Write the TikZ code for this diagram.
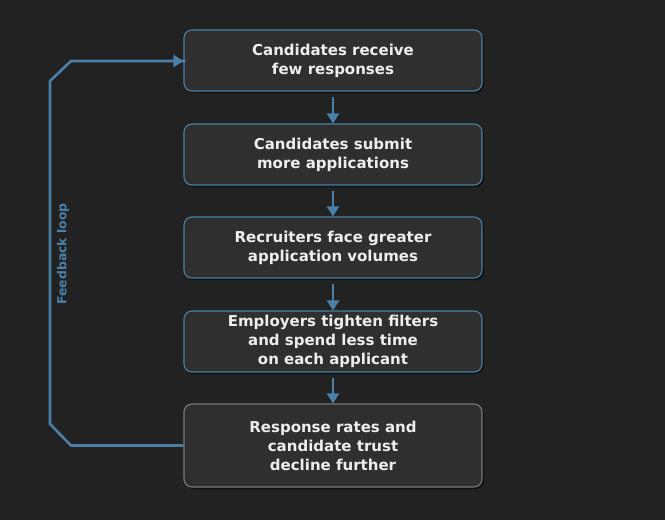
\documentclass[tikz,border=0pt]{standalone}
\usepackage{fontspec}
\setmainfont{DejaVu Sans}
\usetikzlibrary{arrows.meta,shadows}
\definecolor{bg}{HTML}{222222}
\definecolor{boxfill}{HTML}{2F2F2F}
\definecolor{flowblue}{HTML}{4A80A8}
\definecolor{endgray}{HTML}{7A7A7A}
\definecolor{txt}{HTML}{EEEEEE}
\tikzset{
  stepbox/.style={draw=flowblue, line width=1.1pt, fill=boxfill, rounded corners=8pt,
    minimum width=298pt, minimum height=61pt, align=center, text=txt,
    font=\fontsize{15}{19}\selectfont\bfseries,
    drop shadow={shadow xshift=2pt, shadow yshift=-2pt, fill=black, opacity=0.5}},
  endbox/.style={stepbox, draw=endgray, minimum height=83pt},
  flow/.style={draw=flowblue, line width=2.4pt, -{Triangle[width=12pt,length=10pt]}},
  loopline/.style={draw=flowblue, line width=2.6pt},
}
\begin{document}
\begin{tikzpicture}[x=1pt,y=-1pt]
\fill[bg] (0,0) rectangle (665,520);
\useasboundingbox (0,0) rectangle (665,520);
\node[stepbox] (b1) at (333,60.5) {Candidates receive\\few responses};
\node[stepbox] (b2) at (333,154.5) {Candidates submit\\more applications};
\node[stepbox] (b3) at (333,247.5) {Recruiters face greater\\application volumes};
\node[stepbox] (b4) at (333,341.5) {Employers tighten filters\\and spend less time\\on each applicant};
\node[endbox] (b5) at (333,445.5) {Response rates and\\candidate trust\\decline further};
\draw[flow] ([yshift=-5pt]b1.south) -- (b2.north);
\draw[flow] ([yshift=-5pt]b2.south) -- (b3.north);
\draw[flow] ([yshift=-5pt]b3.south) -- (b4.north);
\draw[flow] ([yshift=-5pt]b4.south) -- (b5.north);
\coordinate (c1) at (71,445.5);
\coordinate (c2) at (50,424);
\coordinate (c3) at (50,81);
\coordinate (c4) at (71,61);
\draw[loopline] (b5.west) -- (c1) -- (c2) -- (c3) -- (c4) -- ([xshift=2pt]b1.west |- c4);
\draw[flow, line width=2.6pt] (c4) -- (b1.west |- c4);
\node[rotate=90, text=flowblue, font=\fontsize{12.4}{14}\selectfont\bfseries] (lbl) at (63,254) {Feedback loop};
\end{tikzpicture}
\end{document}
